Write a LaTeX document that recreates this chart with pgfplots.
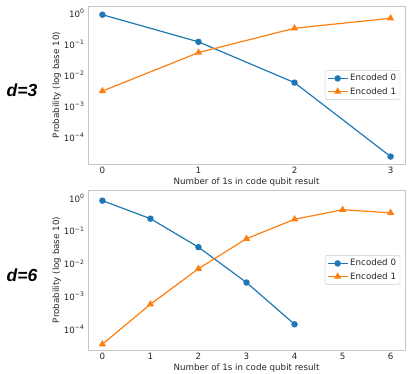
\documentclass[border=0pt]{standalone}
\usepackage{fontspec}
\setmainfont{DejaVu Sans}
\newfontfamily\arialfont{Liberation Sans}
\usepackage{pgfplots}
\pgfplotsset{compat=1.18}
\definecolor{mblue}{HTML}{1F77B4}
\definecolor{morange}{HTML}{FF7F0E}
\newcommand{\lblfont}{\fontsize{8.7}{10}\selectfont}
\pgfplotsset{
  every axis/.append style={
    scale only axis, width=317pt, anchor=south west,
    yminorticks=false,
    axis line style={black!22}, major tick length=0pt, minor tick length=0pt,
    ytick={1,0.1,0.01,0.001,0.0001},
    yticklabels={10\textsuperscript{0},10\textsuperscript{−1},10\textsuperscript{−2},10\textsuperscript{−3},10\textsuperscript{−4}},
    xtick={0,...,6},
    tick label style={font=\lblfont, text=black!85},
    label style={font=\lblfont, text=black!85},
    xlabel={Number of 1s in code qubit result},
    ylabel={Probability (log base 10)},
    xlabel shift=-3pt, ylabel shift=-4pt,
    legend cell align=left,
    legend style={at={(rel axis cs:0.985,0.5)}, anchor=east, font=\lblfont,
      draw=black!20, rounded corners=2pt, inner sep=2pt, row sep=1pt, text=black!85},
    legend image code/.code={\draw[mark repeat=2,mark phase=2] plot coordinates {(0cm,0cm) (0.35cm,0cm) (0.7cm,0cm)};},
  },
  s0/.style={color=mblue, line width=1.2pt, mark=*, mark size=2.6pt},
  s1/.style={color=morange, line width=1.2pt, mark=triangle*, mark size=3pt},
}
\begin{document}
\begin{tikzpicture}
\useasboundingbox (0,0) rectangle (415pt,374pt);
\begin{semilogyaxis}[at={(88pt,210pt)}, height=158pt,
  xmin=-0.15, xmax=3.15, ymin=1.38e-5, ymax=1.72,
  /pgf/number format/assume math mode=true]
\addplot[s0] coordinates {(0,0.9) (1,0.12) (2,0.0058) (3,2.4e-5)};
\addlegendentry{Encoded 0}
\addplot[s1] coordinates {(0,0.0031) (1,0.054) (2,0.33) (3,0.69)};
\addlegendentry{Encoded 1}
\end{semilogyaxis}
\begin{semilogyaxis}[at={(88pt,24pt)}, height=160pt,
  xmin=-0.3, xmax=6.3, ymin=2.4e-5, ymax=1.75,
  /pgf/number format/assume math mode=true]
\addplot[s0] coordinates {(0,0.83) (1,0.235) (2,0.032) (3,0.0027) (4,1.45e-4)};
\addlegendentry{Encoded 0}
\addplot[s1] coordinates {(0,3.6e-5) (1,5.9e-4) (2,0.0071) (3,0.058) (4,0.225) (5,0.44) (6,0.355)};
\addlegendentry{Encoded 1}
\end{semilogyaxis}
\node[font=\arialfont\bfseries\itshape\fontsize{17.5}{20}\selectfont] at (22pt,284pt) {d=3};
\node[font=\arialfont\bfseries\itshape\fontsize{17.5}{20}\selectfont] at (22pt,99pt) {d=6};
\end{tikzpicture}
\end{document}
